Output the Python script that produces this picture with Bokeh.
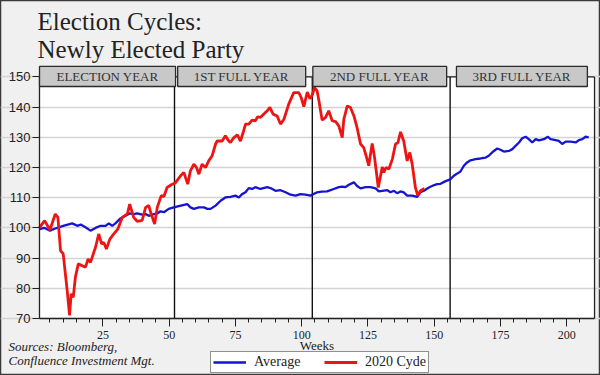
from bokeh.plotting import figure
from bokeh.models import Range1d, FixedTicker, Label, Legend, LegendItem
from bokeh.embed import file_html
from bokeh.resources import INLINE
from bokeh.core.properties import value

# ---------------- data ----------------
title_lines = ["Election Cycles:", "Newly Elected Party"]
source_lines = ["Sources:  Bloomberg,", "Confluence Investment Mgt."]
x_axis_label = "Weeks"
series_names = ["Average", "2020 Cyde"]

avg_weeks = [1, 3, 5, 7, 10, 13.4, 15.3, 16.6, 18.4, 20.3, 22.2, 24.1, 26, 27.2, 28.5, 29.7,
             31.4, 33.5, 35.1, 36.6, 37.9, 39.8, 41.1, 42.3, 44.2, 45.5, 46.7, 48, 49.8, 51.7,
             54, 56.8, 58, 59.3, 61.2, 63.1, 64.4, 65.6, 67.5, 69.4, 71.2, 73.1, 75, 76.3, 77.5,
             78.8, 80, 81.3, 82.5, 84.4, 87, 88.2, 90.1, 92, 93.9, 95.8, 97.7, 99.5, 101.4, 103.3,
             105.8, 107.5, 109.6, 112.1, 114, 115.3, 116.5, 117.8, 119.7, 120.9, 122.2, 124.1, 126,
             127.9, 129.1, 130.4, 132.3, 133.5, 134.8, 136, 137.3, 138.5, 139.8, 141.7, 143.6,
             144.8, 146.1, 148, 150, 151.1, 152.4, 154.3, 156.1, 157.4, 158.7, 159.9, 161.2, 162.4,
             163.7, 165.6, 167.5, 169.4, 170.6, 172.5, 173.8, 175, 176.3, 178.2, 179.5, 180.7, 182,
             183.2, 184.5, 185.7, 187, 188.3, 189.5, 191.4, 192.9, 193.9, 195.8, 197, 198.3, 199.6,
             201.5, 203.4, 204.6, 205.9, 207.1, 208.3]
avg_values = [99.6, 100, 99.1, 99.8, 100.7, 101.5, 100.7, 101.1, 100.2, 99.1, 100, 100.7, 100.7,
              101.5, 100.7, 101.5, 103, 104, 104.8, 104.6, 104.8, 104.4, 104.6, 104, 104.6, 104.8,
              105.5, 105.2, 106.3, 106.8, 107.3, 107.9, 106.8, 106.3, 106.8, 106.8, 106.3, 106.3,
              107.4, 109, 110.1, 110.3, 110.7, 110.1, 111.2, 111.8, 113.2, 112.9, 113.5, 112.9,
              113.5, 113.2, 112.3, 112.5, 111.8, 111, 110.7, 111.2, 111, 110.7, 111.8, 112, 112.1,
              112.9, 113.5, 113.7, 113.5, 114.3, 115.1, 113.9, 113.1, 113.5, 113.5, 113.1, 112.1,
              112.3, 112.5, 111.8, 112.3, 111.5, 112.1, 111.8, 110.7, 110.7, 110.3, 111.8, 112.3,
              113.4, 114.2, 114.5, 114.6, 115.5, 116.1, 117.3, 118, 118.7, 120.6, 121.7, 122.4,
              122.8, 123, 123.3, 123.9, 125.5, 126.3, 125.9, 125.3, 125.5, 126.1, 127.2, 128.3,
              129.7, 130.2, 129.4, 128.3, 129.4, 129, 129.4, 130.2, 129.4, 129.1, 128.8, 127.8,
              128.6, 128.6, 128.3, 129.1, 129.4, 130.2, 130]

cycle_weeks = [1, 3, 5, 7, 8, 9, 10, 11.5, 12.4, 13, 13.8, 14.6, 15.7, 17.2, 18.4, 19.4, 20.3,
               22.2, 23.4, 24.5, 25.3, 26.3, 27.6, 29.1, 30.6, 32.3, 34.2, 35.1, 36.6, 37.9, 39.8,
               41.1, 42.3, 43.2, 44.5, 45.5, 47, 48, 49.2, 50.8, 52.4, 54.3, 55.5, 57, 58, 59.3,
               60.3, 61.2, 62.4, 63.7, 64.9, 66.2, 67.5, 68.1, 70, 71.2, 72.5, 73.1, 74.4, 75.7,
               76.9, 77.9, 78.8, 80, 81.3, 82.5, 83.4, 84.4, 85.7, 87, 88, 89.2, 90.7, 92, 93.3,
               95.1, 97, 98.9, 99.8, 100.8, 102.1, 103.1, 104, 104.8, 105.8, 106.5, 107.7, 109,
               110.2, 111.5, 112.8, 114, 115.3, 115.9, 117.2, 118.4, 119.7, 120.9, 122.2, 123.4,
               124.5, 125.3, 126.6, 127.5, 128.9, 130.4, 131, 131.8, 132.9, 134.2, 135.4, 136.3,
               137.3, 138.5, 139.8, 140.8, 141.7, 142.9, 143.8, 144.8, 146.3]
cycle_values = [100, 102.4, 99.3, 104.6, 103.5, 92.5, 91.4, 79.3, 71, 78.2, 77, 83.7, 88.1, 87.5,
                87, 89.7, 88.6, 93.6, 98, 94.7, 95.2, 93, 96.3, 98, 99.6, 103.5, 104.6, 107.9,
                103.5, 102.2, 102.5, 106.8, 107.4, 104.6, 101.3, 106.8, 110.7, 110.4, 113.4, 114.3,
                115, 117.3, 118.4, 114.5, 118.9, 121.1, 120, 117.8, 121.1, 120, 122.2, 123.9, 127.8,
                128.8, 128.8, 130.5, 128.8, 128.3, 129.9, 130.8, 128.8, 131.6, 134.4, 134.4, 135.7,
                135.5, 136.8, 136.6, 137.7, 138.8, 139.9, 137.7, 137.1, 134.4, 136, 141, 144.8,
                144.8, 143.2, 140.2, 145, 142.8, 144, 146.5, 145.4, 142.1, 135.7, 136.6, 138.8,
                135.5, 135.2, 133.8, 129.9, 136, 140.4, 139.9, 137.1, 133.2, 127.8, 126.6, 123.3,
                120.6, 128, 123.3, 113.4, 120.2, 118.4, 120, 119.5, 122.8, 127.8, 128.2, 131.8,
                128.8, 122.2, 125, 121.1, 113.4, 110.7, 112.3, 113.1]

phase_labels = ["ELECTION YEAR", "1ST FULL YEAR", "2ND FULL YEAR", "3RD FULL YEAR"]
phase_starts = [1.06, 53.2, 104.2, 158.4]
phase_ends = [52.4, 101.5, 154.7, 207.8]
year_boundaries = [52, 104, 156]

y_ticks = [70, 80, 90, 100, 110, 120, 130, 140, 150]
x_ticks = [25, 50, 75, 100, 125, 150, 175, 200]
x_minor_ticks = [w for w in range(5, 210, 5) if w not in x_ticks]

# ---------------- layout constants ----------------
# the frame covers the whole canvas; the plot box spans weeks 1.06..210.5 and values 70..150
PLOT_LEFT, PLOT_RIGHT = 1.06, 210.5
Y_MIN, Y_TOP_LINE = 70, 150
HEADER_BOTTOM, HEADER_TOP = 146.85, 153.5
BG = "#f0f0f0"
INK = "#222222"
SERIF = "Liberation Serif"
SANS = "Liberation Sans"

p = figure(width=600, height=375, title=None,
           x_range=Range1d(-13.66, 212.75), y_range=Range1d(51.12, 175.33),
           output_backend="svg", toolbar_location=None)
p.min_border = 0
p.min_border_left = p.min_border_right = p.min_border_top = p.min_border_bottom = 0
p.background_fill_color = BG
p.border_fill_color = BG
p.outline_line_color = "#3a3a3a"
p.outline_line_width = 1.5

# white plot area
p.quad(left=[PLOT_LEFT], right=[PLOT_RIGHT], bottom=[Y_MIN], top=[Y_TOP_LINE],
       fill_color="white", line_color=None, level="image")

# grid
p.xgrid.visible = False
p.ygrid.ticker = FixedTicker(ticks=y_ticks)
p.ygrid.bounds = (PLOT_LEFT, PLOT_RIGHT)
p.ygrid.grid_line_color = "#d4d4d4"
p.ygrid.grid_line_width = 1.3

# axes drawn at fixed data locations so they take no panel space
p.yaxis.fixed_location = PLOT_LEFT
p.yaxis.bounds = (Y_MIN, Y_TOP_LINE)
p.yaxis.ticker = FixedTicker(ticks=y_ticks)
p.yaxis.major_tick_out = 7
p.yaxis.major_tick_in = 0
p.yaxis.minor_tick_line_color = None
p.yaxis.major_label_standoff = 2
p.yaxis.major_label_text_font = SANS
p.yaxis.major_label_text_font_size = "13px"
p.yaxis.major_label_text_color = INK
p.yaxis.axis_line_color = INK
p.yaxis.axis_line_width = 1.3
p.yaxis.major_tick_line_color = INK

p.xaxis.fixed_location = Y_MIN
p.xaxis.bounds = (PLOT_LEFT, PLOT_RIGHT)
p.xaxis.ticker = FixedTicker(ticks=x_ticks, minor_ticks=x_minor_ticks)
p.xaxis.major_tick_out = 8
p.xaxis.major_tick_in = 0
p.xaxis.minor_tick_out = 4
p.xaxis.minor_tick_in = 0
p.xaxis.major_label_standoff = 5
p.xaxis.major_label_text_font = SERIF
p.xaxis.major_label_text_font_size = "12px"
p.xaxis.major_label_text_color = INK
p.xaxis.axis_label = x_axis_label
p.xaxis.axis_label_text_font = SERIF
p.xaxis.axis_label_text_font_style = "normal"
p.xaxis.axis_label_text_font_size = "13px"
p.xaxis.axis_label_text_color = INK
p.xaxis.axis_label_standoff = -5
p.xaxis.axis_line_color = INK
p.xaxis.axis_line_width = 1.3
p.xaxis.major_tick_line_color = INK
p.xaxis.minor_tick_line_color = INK

# frame top line, right border, year dividers
p.segment(x0=[PLOT_LEFT], y0=[Y_TOP_LINE], x1=[PLOT_RIGHT], y1=[Y_TOP_LINE],
          line_color=INK, line_width=1.3)
p.segment(x0=[PLOT_RIGHT], y0=[Y_MIN], x1=[PLOT_RIGHT], y1=[Y_TOP_LINE],
          line_color=INK, line_width=1.3)
p.segment(x0=year_boundaries, y0=[Y_MIN] * len(year_boundaries),
          x1=year_boundaries, y1=[Y_TOP_LINE] * len(year_boundaries),
          line_color="#111111", line_width=1.4)

# series
r_avg = p.line(avg_weeks, avg_values, line_color="#1414d2", line_width=2.3)
r_cyc = p.line(cycle_weeks, cycle_values, line_color="#ee1414", line_width=2.8)

# phase header boxes
p.quad(left=phase_starts, right=phase_ends,
       bottom=[HEADER_BOTTOM] * len(phase_labels), top=[HEADER_TOP] * len(phase_labels),
       fill_color="#c8c8c8", line_color="#2a2a2a", line_width=1.3, level="overlay")
p.text(x=[(a + b) / 2 for a, b in zip(phase_starts, phase_ends)],
       y=[(HEADER_BOTTOM + HEADER_TOP) / 2] * len(phase_labels),
       text=phase_labels, text_font=value(SERIF), text_font_size=value("13px"),
       text_color="#333333", text_align="center", text_baseline="middle", level="overlay")

# titles (screen px from the bottom-left of the canvas-wide frame)
title_baselines = [354.3, 325.7]
for t, yb in zip(title_lines, title_baselines):
    p.add_layout(Label(x=37, y=yb, x_units="screen", y_units="screen",
                       text=t, text_font=SERIF, text_font_size="25px",
                       text_color=INK, text_baseline="alphabetic"))

# sources
source_baselines = [29.3, 15.0]
for t, yb in zip(source_lines, source_baselines):
    p.add_layout(Label(x=8, y=yb, x_units="screen", y_units="screen",
                       text=t, text_font=SERIF, text_font_size="13px",
                       text_font_style="italic", text_color=INK,
                       text_baseline="alphabetic"))

legend = Legend(items=[LegendItem(label=series_names[0], renderers=[r_avg]),
                       LegendItem(label=series_names[1], renderers=[r_cyc])],
                location=(210, 2), orientation="horizontal",
                label_text_font=SERIF, label_text_font_size="14px",
                label_text_color=INK,
                glyph_width=33, glyph_height=14, label_width=50, label_standoff=8,
                spacing=20, padding=2, margin=0,
                border_line_color=INK, border_line_width=1.3,
                background_fill_color="white", background_fill_alpha=1.0)
p.add_layout(legend)

open("out.html", "w").write(file_html(p, INLINE))
